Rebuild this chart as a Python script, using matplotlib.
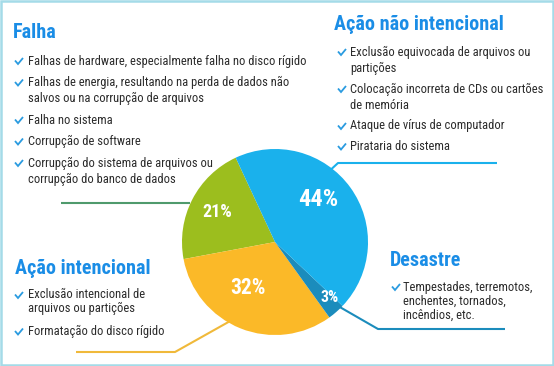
import matplotlib
matplotlib.use('Agg')
import matplotlib.pyplot as plt
from matplotlib import font_manager as fm
from matplotlib.patches import Rectangle

W, H = 554, 366

# ---- data ----
categories = ["Falha", "Ação intencional", "Desastre", "Ação não intencional"]
shares = [21, 32, 3, 44]
pct_labels = ["21%", "32%", "3%", "44%"]
colors = ["#9cbe1e", "#fbb928", "#1b8cbc", "#1ab1ec"]

falha_items = [
    ["Falhas de hardware, especialmente falha no disco rígido"],
    ["Falhas de energia, resultando na perda de dados não",
     "salvos ou na corrupção de arquivos"],
    ["Falha no sistema"],
    ["Corrupção de software"],
    ["Corrupção do sistema de arquivos ou", "corrupção do banco de dados"],
]
nao_intencional_items = [
    ["Exclusão equivocada de arquivos ou", "partições"],
    ["Colocação incorreta de CDs ou cartões", "de memória"],
    ["Ataque de vírus de computador"],
    ["Pirataria do sistema"],
]
intencional_items = [
    ["Exclusão intencional de", "arquivos ou partições"],
    ["Formatação do disco rígido"],
]
desastre_items = [
    ["Tempestades, terremotos,", "enchentes, tornados,", "incêndios, etc."],
]

# ---- fonts ----
names = {f.name for f in fm.fontManager.ttflist}
FONT, STRETCH = 'DejaVu Sans', 'condensed'
for cand in ['Roboto Condensed', 'Liberation Sans Narrow', 'Open Sans Condensed']:
    if cand in names:
        FONT, STRETCH = cand, 'normal'
        break

TITLE_C = '#1a8de6'
TEXT_C = '#2b2b2b'
CHECK_C = '#2a9be0'

fig = plt.figure(figsize=(W / 100, H / 100), dpi=100)
ax = fig.add_axes([0, 0, 1, 1])

# leader lines (under the pie)
ax.plot([61, 190], [203, 203], color='#4f9a6c', lw=1.5, zorder=1, solid_capstyle='butt')
ax.plot([325, 338, 497], [175, 163, 163], color='#1ab1ec', lw=1.5, zorder=1, solid_capstyle='butt')
ax.plot([232, 175, 76], [320, 352, 352], color='#f0b93a', lw=1.5, zorder=1, solid_capstyle='butt')
ax.plot([338, 378, 505], [306, 329, 329], color='#1b8cbc', lw=1.5, zorder=1, solid_capstyle='butt')

wedges, _ = ax.pie(shares, colors=colors, startangle=-115, counterclock=False,
                   radius=93, center=(275, 242),
                   wedgeprops=dict(linewidth=0, zorder=2))
for w in wedges:
    w.set_zorder(2)

ax.set_xlim(0, W)
ax.set_ylim(H, 0)
ax.set_aspect('equal')
ax.axis('off')

# percent labels
pct_pos = [(217, 212), (248, 288), (330, 297), (318, 200)]
pct_size = [13, 15.5, 11.5, 17.5]
for lab, (x, y), s in zip(pct_labels, pct_pos, pct_size):
    ax.text(x, y, lab, color='white', fontsize=s, fontweight='bold',
            family=FONT, fontstretch=STRETCH, ha='center', va='center', zorder=5)


def check(xc, y):
    ax.plot([xc, xc + 3, xc + 8], [y - 1, y + 2.5, y - 3.5], color=CHECK_C,
            lw=1.3, solid_capstyle='butt', solid_joinstyle='miter', zorder=5)


def block(title, tx, ty, items, xc, xt, y0, line_h, step, fs=9.0):
    ax.text(tx, ty, title, color=TITLE_C, fontsize=14.5, fontweight='bold',
            family=FONT, fontstretch=STRETCH, ha='left', va='center', zorder=5)
    y = y0
    for item in items:
        check(xc, y + 0.5)
        for j, line in enumerate(item):
            ax.text(xt, y + j * line_h, line, color=TEXT_C, fontsize=fs,
                    family=FONT, fontstretch=STRETCH, ha='left', va='center', zorder=5)
        y = y + (len(item) - 1) * line_h + step


block(categories[0], 13, 33, falha_items, 15, 28, 61, 16, 21.5)
block(categories[3], 334, 25, nao_intencional_items, 338, 350, 52, 16.5, 20.5)
block(categories[1], 15, 269, intencional_items, 15, 28, 295, 13.5, 23)
block(categories[2], 390, 261, desastre_items, 392, 403, 287, 14, 20)

# frame
ax.add_patch(Rectangle((1.25, 1.25), W - 2.5, H - 2.5, fill=False,
                       edgecolor='#a4dbe8', lw=1.8, zorder=10))

fig.savefig('out.png', dpi=100)
